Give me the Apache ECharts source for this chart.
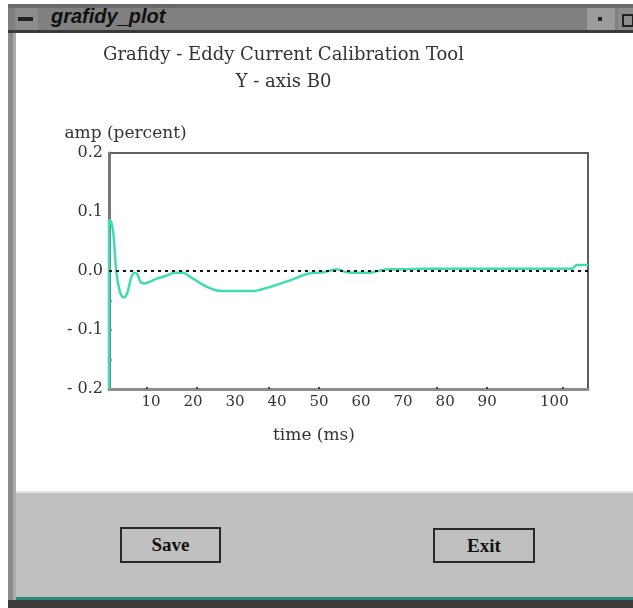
<!DOCTYPE html>
<html>
<head>
<meta charset="utf-8">
<script src="https://cdn.jsdelivr.net/npm/echarts@6/dist/echarts.min.js"></script>
<style>
html, body { margin: 0; padding: 0; width: 633px; height: 608px; overflow: hidden; background: #fff; }
.box { position: absolute; box-sizing: border-box; }
#frame { left: 8px; top: 4px; width: 625px; height: 604px; background: #8a8a8a; border-left: 5px solid #8a8a8a; }
#frameIn { left: 13px; top: 33px; width: 3px; height: 567px; background: #ababab; }
#titlebar { left: 8px; top: 4px; width: 625px; height: 29px; background: #808080; border-top: 4px solid #6a6a6a; border-bottom: 3px solid #3a3a3a; }
#menuBtn { left: 15px; top: 8px; width: 23px; height: 22px; background: #8c8c8c; }
#menuBar { left: 18px; top: 17px; width: 15px; height: 4px; background: #222; }
#winTitle { left: 51px; top: 5px; font: italic bold 20px "Liberation Sans", Arial, sans-serif; color: #111; }
#btnMin { left: 587px; top: 8px; width: 28px; height: 22px; background: #9c9c9c; }
#btnDot { left: 598px; top: 17px; width: 4px; height: 4px; background: #222; }
#btnMax { left: 618px; top: 8px; width: 15px; height: 22px; background: #8c8c8c; }
#btnMaxSq { left: 622px; top: 14px; width: 12px; height: 13px; border: 2px solid #222; }
#chartWrap { left: 16px; top: 33px; width: 617px; height: 459px; background: #fff; }
#panel { left: 16px; top: 491px; width: 617px; height: 106px; background: #c0c0c0; border-top: 2px solid #e2e2e2; }
#teal { left: 16px; top: 597px; width: 617px; height: 3px; background: #2b8a80; }
#bottomEdge { left: 8px; top: 600px; width: 625px; height: 8px; background: #3c3c3c; }
.btn { position: absolute; box-sizing: border-box; border: 2px solid #2a2a2a; background: #c0c0c0;
       font: bold 19px "Liberation Serif", "DejaVu Serif", serif; color: #111; text-align: center; }
#save { left: 120px; top: 527px; width: 101px; height: 36px; line-height: 32px; }
#exit { left: 433px; top: 528px; width: 102px; height: 35px; line-height: 31px; }
</style>
</head>
<body>
<div class="box" id="frame"></div>
<div class="box" id="frameIn"></div>
<div class="box" id="titlebar"></div>
<div class="box" id="menuBtn"></div>
<div class="box" id="menuBar"></div>
<div class="box" id="winTitle">grafidy_plot</div>
<div class="box" id="btnMin"></div>
<div class="box" id="btnDot"></div>
<div class="box" id="btnMax"></div>
<div class="box" id="btnMaxSq"></div>
<div class="box" id="chartWrap"><div id="myChart" style="width:617px;height:459px;"></div></div>
<div class="box" id="panel"></div>
<div class="box" id="teal"></div>
<div class="box" id="bottomEdge"></div>
<div class="btn" id="save">Save</div>
<div class="btn" id="exit">Exit</div>

<script>
/** 数据 */
// 时间 (ms)
var timeMs = [0, 0, 0.3, 1.0, 1.6, 2.1, 2.9, 3.6, 4.4, 5.2, 6.0, 6.8, 7.5, 8.7, 9.8,
	11.4, 13.3, 15.7, 17.7, 19.5, 20.5, 22.5, 24.0, 25.6, 29.6, 34.4, 38.3, 43.1,
	47.1, 51.0, 54.2, 56.6, 60.5, 62.9, 66.1, 69.3, 74.8, 90.7, 110.2, 111.3, 114]
// 幅值 (percent)
var ampPct = [-0.2, 0.086, 0.086, 0.066, 0.01, -0.019, -0.041, -0.045, -0.036, -0.013, -0.003,
	-0.006, -0.019, -0.021, -0.018, -0.013, -0.009, -0.003, -0.003, -0.011, -0.015,
	-0.024, -0.029, -0.033, -0.034, -0.034, -0.027, -0.016, -0.005, -0.002, 0.003,
	-0.002, -0.003, -0.002, 0.003, 0.003, 0.004, 0.004, 0.004, 0.01, 0.01]
// 坐标轴刻度
var xLabelValues = [10, 20, 30, 40, 50, 60, 70, 80, 90, 106]
var xLabelTexts = ['10', '20', '30', '40', '50', '60', '70', '80', '90', '100']
var xTickValues = [9, 21, 38, 50, 78, 90, 108]
var yLabelValues = [-0.2, -0.1, 0, 0.1, 0.2]
var yLabelTexts = ['- 0.2', '- 0.1', '0.0', '0.1', '0.2']
var yTickValues = [-0.15, -0.1, -0.05]
var titleLines = ['Grafidy - Eddy Current Calibration Tool', 'Y - axis B0']

/** 全局变量 */
var myChart
var option
var serif = '"DejaVu Serif", "Liberation Serif", serif'

// 按值查找标签
var pickLabel = function(values, texts, v) {
	for (var i = 0; i < values.length; i++) {
		if (Math.abs(values[i] - v) < 1e-6) return texts[i]
	}
	return ''
}

/** 初始化option */
var initOption = function() {
	var points = []
	for (var i = 0; i < timeMs.length; i++) {
		points.push([timeMs[i], ampPct[i]])
	}
	option = {
		animation: false,
		graphic: [
			{ type: 'text', x: 267.5, y: 22, style: { text: titleLines[0], font: '18px ' + serif, fill: '#333', textAlign: 'center', textVerticalAlign: 'middle' } },
			{ type: 'text', x: 267.5, y: 49, style: { text: titleLines[1], font: '18px ' + serif, fill: '#333', textAlign: 'center', textVerticalAlign: 'middle' } }
		],
		grid: {
			left: 93, top: 120, width: 479, height: 236,
			show: true, borderColor: '#5e5e5e', borderWidth: 2
		},
		xAxis: {
			type: 'value', min: 0, max: 114,
			name: 'time (ms)', nameLocation: 'middle', nameGap: 38,
			nameTextStyle: { fontFamily: serif, fontSize: 17, color: '#333', padding: [0, 69, 0, 0] },
			splitLine: { show: false },
			axisLine: { onZero: false, lineStyle: { color: '#8e8e8e', width: 3 } },
			axisTick: { show: true, inside: true, length: 2, customValues: xTickValues, lineStyle: { color: '#444', width: 2 } },
			axisLabel: {
				customValues: xLabelValues, margin: 6,
				fontFamily: serif, fontSize: 15, color: '#333',
				formatter: function(v) { return pickLabel(xLabelValues, xLabelTexts, v) }
			}
		},
		yAxis: {
			type: 'value', min: -0.2, max: 0.2, interval: 0.1,
			name: 'amp (percent)', nameLocation: 'end', nameGap: 11,
			nameTextStyle: { fontFamily: serif, fontSize: 17, color: '#333', padding: [0, 0, 0, 33] },
			splitLine: { show: false },
			axisLine: { lineStyle: { color: '#777', width: 3 } },
			axisTick: { show: true, inside: true, length: 3, customValues: yTickValues, lineStyle: { color: '#6a9', width: 2 } },
			axisLabel: {
				customValues: yLabelValues, margin: 6,
				fontFamily: serif, fontSize: 16, color: '#333',
				formatter: function(v) { return pickLabel(yLabelValues, yLabelTexts, v) }
			}
		},
		series: [
			{
				type: 'line',
				data: points,
				showSymbol: false,
				smooth: 0.25,
				lineStyle: { color: '#3fdcb2', width: 2.5 },
				markLine: {
					silent: true,
					symbol: ['none', 'none'],
					label: { show: false },
					lineStyle: { color: '#111', type: [3, 4], width: 2 },
					data: [{ yAxis: 0 }]
				},
				z: 3
			}
		]
	}
}

/** 初始化图表 */
var initChart = function() {
	myChart = echarts.init(document.getElementById('myChart'), null, { renderer: 'canvas' })
	myChart.setOption(option)
}

initOption()
initChart()
</script>
</body>
</html>
